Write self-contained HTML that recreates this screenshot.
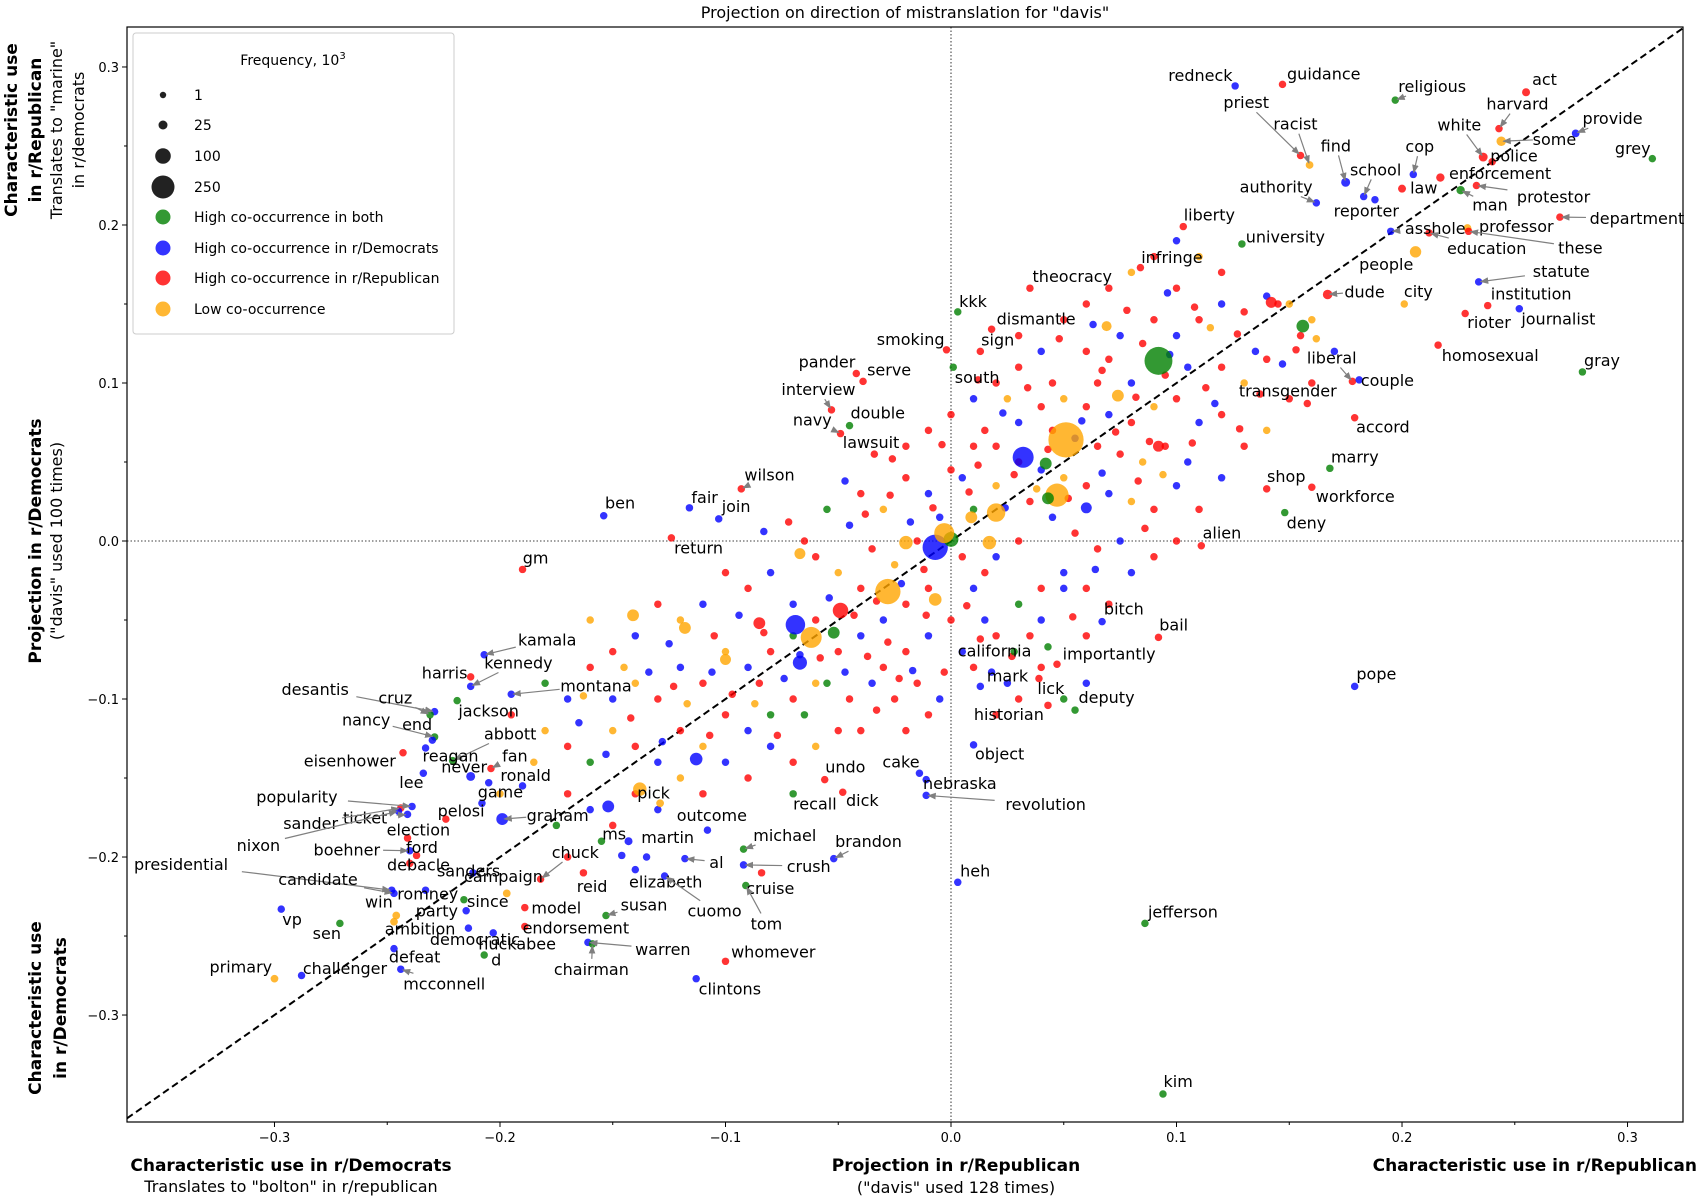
<!DOCTYPE html>
<html><head><meta charset="utf-8"><style>
body{margin:0;background:#fff}
svg{display:block;font-family:"DejaVu Sans","Liberation Sans",sans-serif}
</style></head><body>
<svg id="chart" width="1700" height="1200" viewBox="0 0 1700 1200" xmlns="http://www.w3.org/2000/svg">
<defs><marker id="ah" viewBox="0 0 10 10" refX="9" refY="5" markerWidth="7" markerHeight="7" orient="auto"><path d="M0,1 L10,5 L0,9 z" fill="#808080"/></marker></defs>
<text x="905" y="18" font-size="16" text-anchor="middle">Projection on direction of mistranslation for "davis"</text>
<rect x="127" y="27" width="1556" height="1095" fill="none" stroke="#000" stroke-width="1.2"/>
<g id="refs"></g><g id="ticks"></g><g id="pts"></g><g id="anns"></g>
<g>
<rect x="133" y="33" width="321" height="301" rx="3" fill="#fff" fill-opacity="0.85" stroke="#ccc"/>
<text x="293" y="65" font-size="14" text-anchor="middle">Frequency, 10<tspan dy="-6" font-size="10">3</tspan></text>
<g font-size="14">
<circle cx="163" cy="95" r="3.2" fill="#222"/><text x="194" y="100">1</text>
<circle cx="163" cy="125" r="4.5" fill="#222"/><text x="194" y="130">25</text>
<circle cx="163" cy="156" r="7.8" fill="#222"/><text x="194" y="161">100</text>
<circle cx="163" cy="187" r="11.5" fill="#222"/><text x="194" y="192">250</text>
<circle cx="163" cy="217" r="7.5" fill="rgb(0,128,0)" fill-opacity="0.8"/><text x="194" y="222">High co-occurrence in both</text>
<circle cx="163" cy="248" r="7.5" fill="rgb(0,0,255)" fill-opacity="0.8"/><text x="194" y="253">High co-occurrence in r/Democrats</text>
<circle cx="163" cy="278" r="7.5" fill="rgb(255,0,0)" fill-opacity="0.8"/><text x="194" y="283">High co-occurrence in r/Republican</text>
<circle cx="163" cy="309" r="7.5" fill="rgb(255,165,0)" fill-opacity="0.8"/><text x="194" y="314">Low co-occurrence</text>
</g></g>
<g font-size="17" text-anchor="middle">
<text transform="translate(17,130) rotate(-90)" font-weight="bold">Characteristic use</text>
<text transform="translate(41,130) rotate(-90)" font-weight="bold">in r/Republican</text>
<text transform="translate(62,130) rotate(-90)" font-size="16">Translates to "marine"</text>
<text transform="translate(84,130) rotate(-90)" font-size="16">in r/democrats</text>
<text transform="translate(41,541) rotate(-90)" font-weight="bold">Projection in r/Democrats</text>
<text transform="translate(62,541) rotate(-90)" font-size="16">("davis" used 100 times)</text>
<text transform="translate(41,1008) rotate(-90)" font-weight="bold">Characteristic use</text>
<text transform="translate(66,1008) rotate(-90)" font-weight="bold">in r/Democrats</text>
</g>
<g font-size="17" text-anchor="middle">
<text x="291" y="1171" font-weight="bold">Characteristic use in r/Democrats</text>
<text x="291" y="1192" font-size="16">Translates to "bolton" in r/republican</text>
<text x="956" y="1171" font-weight="bold">Projection in r/Republican</text>
<text x="956" y="1193" font-size="16">("davis" used 128 times)</text>
<text x="1697" y="1171" font-weight="bold" text-anchor="end">Characteristic use in r/Republican</text>
</g>
</svg>
<script>
const xTicks=[-0.3,-0.2,-0.1,0.0,0.1,0.2,0.3];
const yTicks=[0.3,0.2,0.1,0.0,-0.1,-0.2,-0.3];
const xTickLabels=["−0.3","−0.2","−0.1","0.0","0.1","0.2","0.3"];
const yTickLabels=["0.3","0.2","0.1","0.0","−0.1","−0.2","−0.3"];
const xDomain=[-0.3654,0.3246];
const yDomain=[-0.3677,0.3253];
// labelled words: [word, x, y, colour, freq]
const words=[
["redneck",0.126,0.288,"b",8],["guidance",0.147,0.289,"r",8],["priest",0.155,0.244,"r",8],["racist",0.159,0.238,"o",10],
["religious",0.197,0.279,"g",8],["act",0.255,0.284,"r",12],["harvard",0.243,0.261,"r",8],["provide",0.277,0.258,"b",10],
["some",0.244,0.253,"o",25],["grey",0.311,0.242,"g",8],["white",0.236,0.243,"r",20],["police",0.240,0.240,"r",8],
["cop",0.205,0.232,"b",8],["find",0.175,0.227,"b",20],["school",0.183,0.218,"b",8],["law",0.200,0.223,"r",12],
["enforcement",0.217,0.230,"r",15],["protestor",0.233,0.225,"r",8],["man",0.226,0.222,"g",15],["authority",0.162,0.214,"b",8],
["reporter",0.188,0.216,"b",8],["liberty",0.103,0.199,"r",8],["university",0.129,0.188,"g",8],["asshole",0.195,0.196,"b",8],
["professor",0.229,0.198,"o",12],["department",0.270,0.205,"r",8],["these",0.2295,0.196,"r",8],["education",0.212,0.195,"r",8],
["people",0.206,0.183,"o",45],["infringe",0.084,0.173,"r",8],["theocracy",0.035,0.160,"r",8],["statute",0.234,0.164,"b",8],
["institution",0.238,0.149,"r",8],["dude",0.167,0.156,"r",25],["city",0.201,0.150,"o",8],["kkk",0.003,0.145,"g",8],
["dismantle",0.018,0.134,"r",8],["rioter",0.228,0.144,"r",8],["journalist",0.252,0.147,"b",8],["smoking",-0.002,0.121,"r",8],
["sign",0.013,0.120,"r",8],["homosexual",0.216,0.124,"r",8],["pander",-0.042,0.106,"r",8],["serve",-0.039,0.101,"r",8],
["liberal",0.178,0.101,"r",8],["couple",0.181,0.102,"b",8],["gray",0.280,0.107,"g",8],["south",0.001,0.110,"g",8],
["interview",-0.053,0.083,"r",8],["transgender",0.158,0.087,"r",8],["double",-0.045,0.073,"g",8],["navy",-0.049,0.068,"r",8],
["accord",0.179,0.078,"r",8],["lawsuit",-0.034,0.055,"r",8],["marry",0.168,0.046,"g",8],["wilson",-0.093,0.033,"r",8],
["shop",0.140,0.033,"r",8],["workforce",0.160,0.034,"r",8],["ben",-0.154,0.016,"b",8],["fair",-0.116,0.021,"b",8],
["join",-0.103,0.014,"b",8],["deny",0.148,0.018,"g",8],["alien",0.111,-0.003,"r",8],["return",-0.124,0.002,"r",8],
["gm",-0.190,-0.018,"r",8],["bitch",0.067,-0.051,"b",8],["bail",0.092,-0.061,"r",8],["kamala",-0.207,-0.072,"b",8],
["kennedy",-0.213,-0.092,"b",8],["california",0.028,-0.070,"g",8],["importantly",0.047,-0.078,"r",8],["harris",-0.213,-0.086,"r",8],
["montana",-0.195,-0.097,"b",8],["pope",0.179,-0.092,"b",8],["mark",0.013,-0.092,"b",8],["desantis",-0.229,-0.108,"b",8],
["cruz",-0.231,-0.110,"g",8],["lick",0.039,-0.087,"r",8],["deputy",0.055,-0.107,"g",8],["jackson",-0.219,-0.101,"g",8],
["nancy",-0.229,-0.124,"g",8],["end",-0.230,-0.126,"b",8],["historian",0.043,-0.104,"r",8],["abbott",-0.221,-0.139,"g",8],
["eisenhower",-0.243,-0.134,"r",8],["reagan",-0.233,-0.131,"b",8],["fan",-0.204,-0.144,"r",8],["object",0.010,-0.129,"b",8],
["never",-0.213,-0.149,"b",20],["ronald",-0.205,-0.153,"b",8],["lee",-0.234,-0.147,"b",8],["cake",-0.014,-0.147,"b",8],
["undo",-0.056,-0.151,"r",8],["nebraska",-0.011,-0.151,"b",8],["game",-0.208,-0.166,"b",8],["popularity",-0.239,-0.168,"b",8],
["pick",-0.129,-0.166,"o",10],["recall",-0.070,-0.160,"g",8],["dick",-0.048,-0.159,"r",8],["revolution",-0.011,-0.161,"b",8],
["outcome",-0.108,-0.183,"b",8],["pelosi",-0.224,-0.176,"r",8],["graham",-0.199,-0.176,"b",50],["ticket",-0.241,-0.173,"b",8],
["sander",-0.244,-0.169,"r",8],["election",-0.241,-0.188,"r",8],["nixon",-0.245,-0.171,"b",8],["boehner",-0.240,-0.196,"b",8],
["ford",-0.237,-0.199,"r",8],["michael",-0.092,-0.195,"g",8],["ms",-0.146,-0.199,"b",8],["martin",-0.143,-0.190,"b",12],
["brandon",-0.052,-0.201,"b",8],["chuck",-0.182,-0.214,"r",8],["debacle",-0.240,-0.204,"r",8],["al",-0.118,-0.201,"b",8],
["crush",-0.092,-0.205,"b",8],["presidential",-0.248,-0.221,"b",8],["sanders",-0.212,-0.210,"b",8],["campaign",-0.197,-0.223,"o",10],
["elizabeth",-0.140,-0.208,"b",8],["cruise",-0.084,-0.210,"r",8],["reid",-0.163,-0.210,"r",8],["heh",0.003,-0.216,"b",8],
["candidate",-0.247,-0.223,"b",8],["romney",-0.233,-0.221,"b",8],["win",-0.246,-0.237,"o",10],["since",-0.216,-0.227,"g",8],
["model",-0.189,-0.232,"r",8],["cuomo",-0.127,-0.212,"b",8],["tom",-0.091,-0.218,"g",8],["party",-0.215,-0.234,"b",8],
["susan",-0.153,-0.237,"g",8],["jefferson",0.086,-0.242,"g",8],["vp",-0.297,-0.233,"b",8],["ambition",-0.247,-0.241,"o",10],
["endorsement",-0.189,-0.244,"r",8],["sen",-0.271,-0.242,"g",8],["democratic",-0.214,-0.245,"b",8],["huckabee",-0.203,-0.248,"b",8],
["warren",-0.161,-0.254,"b",8],["whomever",-0.100,-0.266,"r",8],["d",-0.207,-0.262,"g",8],["defeat",-0.247,-0.258,"b",8],
["chairman",-0.159,-0.255,"g",8],["challenger",-0.288,-0.275,"b",8],["primary",-0.300,-0.277,"o",10],["mcconnell",-0.244,-0.271,"b",8],
["clintons",-0.113,-0.277,"b",8],["kim",0.094,-0.350,"g",8]];
// label text offsets (px, styling only), same order as words
const labelOffsets=[[-32,-10],[38,-10],[-50,-49],[-13,-38],[34,-13],[17,-12],[17,-23],[34,-14],[49,-2],[-18,-10],[-22,-30],[20,-6],
[6,-26],[-9,-34],[11,-25],[20,-1],[55,-4],[71,10],[27,13],[-37,-15],[-8,10],[24,-11],[40,-7],[41,-3],[45,-2],[71,1],[103,15],[53,14],
[-27,11],[29,-10],[39,-11],[76,-10],[40,-11],[34,-3],[13,-12],[14,-10],[41,-10],[22,8],[36,9],[-33,-10],[16,-11],[48,9],[-27,-11],[24,-11],
[-19,-22],[26,0],[18,-11],[22,9],[-12,-19],[-18,-12],[26,-12],[-26,-13],[26,8],[-3,-11],[23,-11],[26,-13],[18,-12],[40,8],[15,-12],[14,-10],
[16,-12],[20,9],[19,-12],[25,9],[12,-11],[20,-12],[14,-12],[58,-14],[44,-22],[-18,-1],[48,-10],[-24,-4],[78,-8],[20,-12],[25,-10],[-110,-21],
[-32,-16],[11,9],[29,-12],[29,9],[-63,-16],[-14,-15],[-36,8],[53,-25],[-49,7],[23,7],[22,-12],[24,8],[-6,-9],[34,-7],[-11,8],[-17,-11],
[19,-12],[31,3],[17,-11],[-106,-9],[-6,-10],[20,9],[18,7],[110,8],[4,-14],[14,-8],[51,-4],[-39,3],[-83,14],[10,-8],[-129,31],[-58,-1],
[5,-8],[38,-13],[-7,-20],[36,-4],[32,-16],[32,-25],[8,1],[29,3],[60,1],[-194,-24],[-4,-2],[-3,-16],[28,11],[8,14],[8,12],[16,-11],
[-70,-13],[2,3],[-16,-13],[22,1],[29,0],[46,32],[19,35],[-27,0],[35,-10],[35,-11],[10,9],[24,6],[47,1],[-12,9],[6,10],[22,10],
[69,6],[44,-9],[11,4],[19,7],[-1,23],[40,-7],[-31,-11],[40,13],[31,9],[14,-12]];
// large marker words (unlabelled): [x, y, colour, freq]
const bigPoints=[[0.092,0.114,"g",370],[0.032,0.053,"b",200],[0.051,0.064,"o",600],[0.047,0.029,"o",250],[0.020,0.018,"o",150],
[-0.007,-0.004,"b",300],[0.0,0.001,"g",90],[-0.003,0.005,"o",180],[-0.028,-0.032,"o",300],[-0.049,-0.044,"r",100],[-0.069,-0.053,"b",170],
[-0.062,-0.061,"o",200],[-0.067,-0.077,"b",80],[0.156,0.136,"g",60],[0.142,0.151,"r",40],[0.069,0.136,"o",30],[-0.113,-0.138,"b",60],
[-0.152,-0.168,"b",50],[-0.138,-0.157,"o",70],[-0.007,-0.037,"o",60],[0.042,0.049,"g",50],[0.043,0.027,"g",50],[0.06,0.021,"b",40],
[0.074,0.092,"o",50],[0.092,0.06,"r",40],[-0.052,-0.058,"g",50],[-0.02,-0.001,"o",70],[0.017,-0.001,"o",70],[0.009,0.015,"o",50],
[-0.085,-0.052,"r",50],[-0.1,-0.075,"o",40],[-0.141,-0.047,"o",50],[-0.118,-0.055,"o",50],[-0.067,-0.008,"o",40]];
// small unlabelled words: [x, y, colour]
const cloudPoints=[[0.06,0.12,"r"],[0.07,0.115,"r"],[0.075,0.13,"b"],[0.085,0.125,"r"],[0.09,0.14,"r"],[0.1,0.13,"b"],[0.11,0.14,"r"],[0.115,0.135,"o"],
[0.12,0.15,"b"],[0.13,0.145,"r"],[0.135,0.12,"b"],[0.14,0.155,"b"],[0.145,0.15,"r"],[0.15,0.15,"o"],[0.065,0.1,"r"],[0.08,0.1,"b"],[0.095,0.105,"r"],
[0.105,0.11,"b"],[0.12,0.11,"r"],[0.13,0.1,"o"],[0.14,0.115,"r"],[0.155,0.13,"r"],[0.16,0.14,"o"],[0.05,0.09,"o"],[0.06,0.085,"r"],[0.07,0.08,"b"],
[0.08,0.075,"r"],[0.09,0.085,"o"],[0.1,0.09,"r"],[0.11,0.075,"b"],[0.12,0.08,"r"],[0.045,0.07,"r"],[0.055,0.065,"b"],[0.065,0.06,"r"],[0.075,0.055,"r"],
[0.085,0.05,"o"],[0.095,0.06,"r"],[0.105,0.05,"b"],[0.03,0.05,"r"],[0.04,0.045,"b"],[0.05,0.04,"o"],[0.06,0.035,"r"],[0.07,0.03,"b"],[0.08,0.025,"o"],
[0.09,0.02,"r"],[0.1,0.035,"b"],[0.02,0.06,"r"],[0.03,0.075,"b"],[0.04,0.085,"r"],[0.025,0.09,"o"],[0.015,0.07,"r"],[0.01,0.06,"r"],[0.005,0.04,"b"],
[0.02,0.035,"o"],[0.035,0.025,"r"],[0.045,0.015,"b"],[0.055,0.005,"r"],[0.065,-0.005,"r"],[0.075,0.0,"b"],[0.03,0.0,"r"],[0.02,-0.01,"b"],[0.015,-0.02,"r"],
[0.04,-0.03,"r"],[0.05,-0.02,"b"],[0.06,-0.03,"r"],[-0.04,0.03,"r"],[-0.03,0.02,"o"],[-0.02,0.04,"r"],[-0.01,0.03,"b"],[0.0,0.045,"r"],[0.01,0.02,"g"],
[-0.045,0.01,"b"],[-0.035,-0.005,"r"],[-0.025,-0.015,"o"],[-0.015,0.0,"r"],[-0.005,0.015,"b"],[0.005,-0.01,"r"],[0.01,-0.03,"b"],[-0.01,-0.03,"r"],
[-0.02,-0.04,"r"],[-0.03,-0.05,"b"],[-0.04,-0.03,"r"],[-0.05,-0.02,"o"],[-0.06,-0.01,"r"],[-0.055,0.02,"g"],[-0.065,0.0,"r"],[-0.07,-0.04,"b"],
[-0.06,-0.05,"r"],[-0.05,-0.07,"r"],[-0.04,-0.06,"b"],[-0.03,-0.08,"r"],[-0.02,-0.07,"r"],[-0.01,-0.06,"b"],[0.0,-0.05,"r"],[0.005,-0.07,"b"],
[-0.015,-0.09,"r"],[-0.025,-0.1,"r"],[-0.035,-0.09,"b"],[-0.045,-0.1,"r"],[-0.055,-0.09,"g"],[-0.005,-0.1,"b"],[-0.01,-0.11,"r"],[-0.04,-0.12,"r"],
[-0.02,-0.12,"r"],[0.01,-0.08,"r"],[0.015,-0.05,"b"],[0.02,-0.06,"r"],[0.03,-0.04,"g"],[0.025,-0.09,"b"],[0.04,-0.05,"b"],[0.05,-0.03,"b"],[0.035,-0.06,"r"],
[-0.08,-0.02,"b"],[-0.09,-0.03,"r"],[-0.1,-0.02,"r"],[-0.11,-0.04,"b"],[-0.12,-0.05,"o"],[-0.13,-0.04,"r"],[-0.14,-0.06,"b"],[-0.15,-0.07,"r"],
[-0.16,-0.05,"o"],[-0.07,-0.06,"g"],[-0.08,-0.07,"r"],[-0.09,-0.08,"b"],[-0.1,-0.07,"o"],[-0.11,-0.09,"r"],[-0.12,-0.08,"b"],[-0.13,-0.1,"r"],
[-0.14,-0.09,"o"],[-0.15,-0.1,"b"],[-0.16,-0.08,"r"],[-0.17,-0.1,"b"],[-0.18,-0.09,"g"],[-0.07,-0.1,"r"],[-0.08,-0.11,"g"],[-0.09,-0.12,"b"],
[-0.1,-0.11,"r"],[-0.11,-0.13,"o"],[-0.12,-0.12,"r"],[-0.13,-0.14,"b"],[-0.14,-0.13,"r"],[-0.15,-0.12,"o"],[-0.16,-0.14,"g"],[-0.17,-0.13,"r"],
[-0.18,-0.12,"o"],[-0.06,-0.13,"o"],[-0.07,-0.14,"r"],[-0.08,-0.13,"b"],[-0.09,-0.15,"r"],[-0.1,-0.14,"b"],[-0.11,-0.16,"r"],[-0.12,-0.15,"o"],
[-0.13,-0.17,"b"],[-0.14,-0.16,"r"],[-0.15,-0.18,"r"],[-0.16,-0.17,"b"],[-0.17,-0.16,"r"],[-0.06,-0.09,"o"],[-0.05,-0.12,"r"],[-0.065,-0.11,"g"],
[-0.085,-0.09,"r"],[-0.105,-0.06,"r"],[-0.125,-0.065,"b"],[-0.145,-0.08,"o"],[-0.165,-0.115,"b"],[-0.185,-0.14,"o"],[-0.195,-0.11,"r"],[-0.19,-0.155,"b"],
[-0.175,-0.18,"g"],[-0.2,-0.16,"o"],[-0.17,-0.2,"r"],[-0.155,-0.19,"g"],[-0.135,-0.2,"b"],[-0.02,0.06,"r"],[-0.01,0.07,"r"],[0.0,0.08,"r"],[0.01,0.09,"b"],
[0.02,0.1,"r"],[0.03,0.11,"r"],[0.04,0.12,"b"],[0.05,0.14,"r"],[0.06,0.15,"r"],[0.07,0.16,"r"],[0.08,0.17,"o"],[0.09,0.18,"r"],[0.1,0.19,"b"],
[0.11,0.18,"o"],[0.1,0.16,"r"],[0.12,0.17,"r"],[0.03,0.13,"r"],[0.045,0.1,"r"],[0.04,-0.08,"r"],[0.05,-0.1,"g"],[0.06,-0.06,"r"],[0.07,-0.04,"r"],
[0.08,-0.02,"b"],[0.09,-0.01,"r"],[0.1,0.0,"r"],[0.11,0.02,"r"],[0.12,0.04,"b"],[0.13,0.06,"r"],[0.14,0.07,"o"],[0.15,0.09,"r"],[0.16,0.1,"r"],
[0.17,0.12,"b"],[0.06,-0.09,"b"],[0.03,-0.1,"r"],[0.02,-0.11,"r"],
[0.067,0.108,"r"],[0.082,0.091,"r"],[0.097,0.118,"b"],[0.113,0.097,"r"],[0.127,0.131,"r"],[0.058,0.076,"b"],[0.073,0.069,"r"],[0.088,0.063,"r"],
[0.043,0.058,"r"],[0.028,0.042,"r"],[0.038,0.033,"o"],[0.052,0.027,"r"],[0.067,0.043,"b"],[0.083,0.038,"r"],[0.012,0.048,"r"],[0.024,0.021,"b"],
[0.008,0.031,"r"],[-0.008,0.021,"r"],[-0.018,0.012,"b"],[-0.027,0.029,"r"],[-0.038,0.017,"r"],[-0.012,-0.018,"r"],[-0.022,-0.027,"b"],[-0.033,-0.038,"r"],
[-0.043,-0.047,"r"],[-0.054,-0.036,"b"],[-0.011,-0.047,"r"],[0.007,-0.041,"r"],[0.013,-0.062,"r"],[-0.017,-0.082,"b"],[-0.028,-0.064,"r"],[-0.037,-0.073,"r"],
[-0.047,-0.083,"b"],[-0.058,-0.074,"r"],[-0.074,-0.087,"b"],[-0.083,-0.058,"r"],[-0.094,-0.047,"b"],[-0.097,-0.097,"r"],[-0.106,-0.083,"b"],[-0.117,-0.103,"o"],
[-0.123,-0.092,"r"],[-0.134,-0.083,"b"],[-0.128,-0.127,"b"],[-0.142,-0.112,"r"],[-0.153,-0.135,"b"],[-0.163,-0.098,"o"],[-0.107,-0.123,"r"],[-0.087,-0.103,"o"],
[-0.077,-0.123,"r"],[-0.067,-0.072,"b"],[-0.033,-0.107,"r"],[-0.023,-0.087,"r"],[-0.003,-0.083,"r"],[0.018,-0.083,"b"],[0.027,-0.073,"r"],[0.043,-0.067,"g"],
[0.054,-0.048,"r"],[0.064,-0.018,"b"],[0.086,0.008,"r"],[0.094,0.042,"o"],[0.107,0.062,"r"],[0.117,0.087,"b"],[0.128,0.071,"r"],[0.137,0.093,"r"],
[0.147,0.112,"b"],[0.153,0.121,"r"],[0.162,0.128,"o"],[0.108,0.148,"r"],[0.096,0.157,"b"],[0.078,0.146,"r"],[0.063,0.137,"b"],[0.048,0.128,"r"],
[0.034,0.097,"r"],[0.023,0.081,"b"],[0.012,0.102,"r"],[-0.004,0.061,"r"],[-0.026,0.052,"r"],[-0.047,0.038,"b"],[-0.072,0.012,"r"],[-0.083,0.006,"b"]];
const colours={g:"rgb(0,128,0)",b:"rgb(0,0,255)",r:"rgb(255,0,0)",o:"rgb(255,165,0)"};
const L=127,R=1683,T=27,B=1122;
function sx(v){return L+(v-xDomain[0])/(xDomain[1]-xDomain[0])*(R-L);}
function sy(v){return B-(v-yDomain[0])/(yDomain[1]-yDomain[0])*(B-T);}
function rad(f){return Math.sqrt(10+0.5*f);}
const NS="http://www.w3.org/2000/svg";
function mk(tag,attrs,parent){const e=document.createElementNS(NS,tag);for(const k in attrs)e.setAttribute(k,attrs[k]);parent.appendChild(e);return e;}
const refs=document.getElementById('refs'),ticks=document.getElementById('ticks'),pts=document.getElementById('pts'),anns=document.getElementById('anns');
let ln=mk('line',{x1:sx(0),x2:sx(0),y1:T,y2:B,stroke:'#000','stroke-width':0.8,'stroke-dasharray':'1.5,2'},refs);


ln=mk('line',{x1:L,x2:R,y1:sy(0),y2:sy(0),stroke:'#000','stroke-width':0.8,'stroke-dasharray':'1.5,2'},refs);


const d1=Math.min(xDomain[1],yDomain[1]);
ln=mk('line',{x1:sx(xDomain[0]),y1:sy(xDomain[0]),x2:sx(d1),y2:sy(d1),stroke:'#000','stroke-width':2,'stroke-dasharray':'7,4'},refs);


xTicks.forEach((v,i)=>{
  mk('line',{x1:sx(v),x2:sx(v),y1:B,y2:B+5,stroke:'#000'},ticks);
  mk('line',{x1:sx(v+0.05),x2:sx(v+0.05),y1:B,y2:B+3,stroke:'#000'},ticks);
  const t=mk('text',{x:sx(v),y:B+20,'font-size':13,'text-anchor':'middle'},ticks);t.textContent=xTickLabels[i];
  
  
});
yTicks.forEach((v,i)=>{
  mk('line',{x1:L-5,x2:L,y1:sy(v),y2:sy(v),stroke:'#000'},ticks);
  mk('line',{x1:L-3,x2:L,y1:sy(v+0.05),y2:sy(v+0.05),stroke:'#000'},ticks);
  const t=mk('text',{x:L-8,y:sy(v)+5,'font-size':13,'text-anchor':'end'},ticks);t.textContent=yTickLabels[i];
  
  
});
cloudPoints.forEach(p=>{
  const c=mk('circle',{cx:sx(p[0]),cy:sy(p[1]),r:rad(8),fill:colours[p[2]],'fill-opacity':0.8},pts);
  
  
});
words.forEach((w,i)=>{
  const px=sx(w[1]),py=sy(w[2]);
  const c=mk('circle',{cx:px,cy:py,r:rad(w[4]),fill:colours[w[3]],'fill-opacity':0.8},pts);
  
  
  const o=labelOffsets[i]||[12,-10];
  const tx=px+o[0]*1.086,ty=py+o[1]*1.086;
  const t=mk('text',{x:tx,y:ty+6,'font-size':16,'text-anchor':'middle'},anns);t.textContent=w[0];
  
  
  const dx=px-tx,dy=py-ty,dist=Math.hypot(dx,dy);
  if(dist>24){
    const hw=w[0].length*4.9+2,hh=10;
    const s=Math.min(hw/Math.abs(dx||1e-6),hh/Math.abs(dy||1e-6),1);
    const x1=tx+dx*s,y1=ty+dy*s;
    const rem=Math.hypot(px-x1,py-y1);
    if(rem>8){
      const e=(rem-2)/rem;
      const a=mk('line',{x1:x1,y1:y1,x2:x1+(px-x1)*e,y2:y1+(py-y1)*e,stroke:'#808080','stroke-width':1.2,'marker-end':'url(#ah)'},anns);
      
      
    }
  }
});
bigPoints.forEach(p=>{
  const c=mk('circle',{cx:sx(p[0]),cy:sy(p[1]),r:rad(p[3]),fill:colours[p[2]],'fill-opacity':0.8},pts);
  
  
});
</script>
</body></html>
